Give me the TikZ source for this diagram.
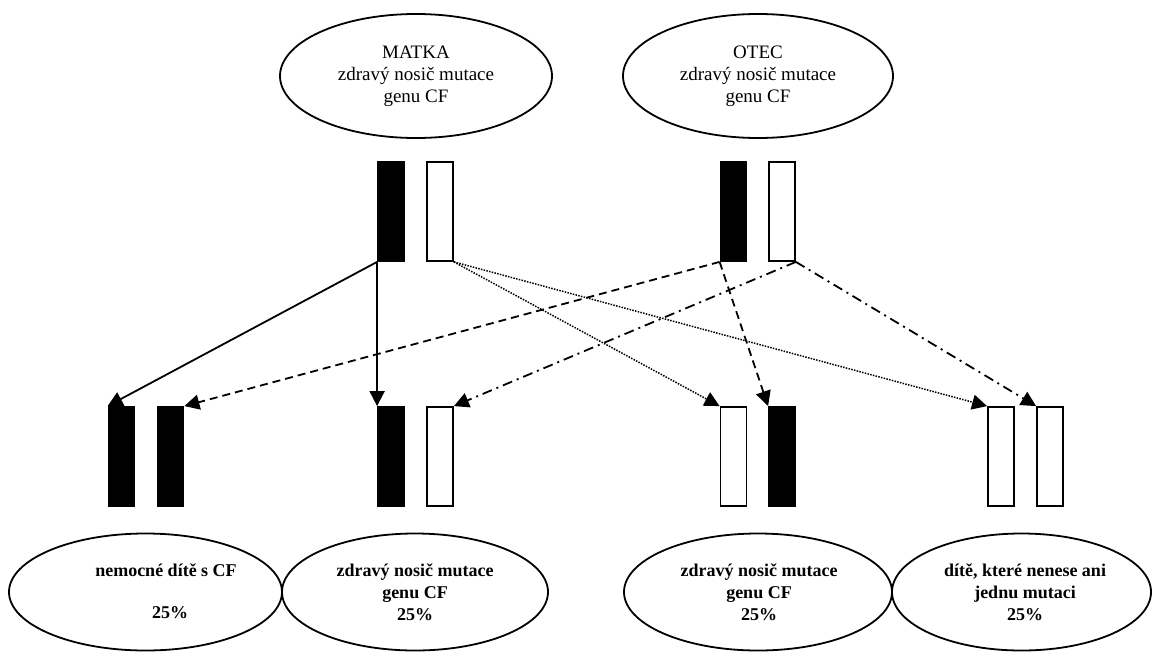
\documentclass[tikz,border=0pt]{standalone}
\usepackage{fontspec}
\setmainfont{Liberation Serif}
\usetikzlibrary{shapes.geometric,arrows.meta}
\begin{document}
\begin{tikzpicture}[x=1pt,y=-1pt,
  oval/.style={draw, line width=1.8pt, ellipse, inner sep=0pt, minimum width=#1, minimum height=124pt,
     align=center, font=\fontsize{19}{22}\selectfont},
  boval/.style={draw, line width=1.8pt, ellipse, inner sep=0pt, minimum width=#1, minimum height=117pt},
  btext/.style={align=center, inner sep=0pt, font=\bfseries\fontsize{18}{22}\selectfont},
  chrom/.style={draw, line width=1.8pt, rectangle, inner sep=0pt, minimum width=26pt, minimum height=99pt},
  blk/.style={chrom, fill=black},
  wht/.style={chrom, fill=white},
  conn/.style={line width=1.8pt, -{Triangle[length=15pt,width=15pt]}},
  solidc/.style={conn},
  dashc/.style={conn, dash pattern=on 8pt off 5pt},
  dotc/.style={conn, line width=1.5pt, dash pattern=on 1.5pt off 1.3pt},
  dashdotc/.style={conn, dash pattern=on 10pt off 5pt on 2pt off 5pt}
]
\useasboundingbox (0,0) rectangle (1153,651);
\fill[white] (0,0) rectangle (1153,651);

% parents
\node[oval=272pt] (matka) at (416,76) {MATKA\\zdravý nosič mutace\\genu CF};
\node[oval=270pt] (otec) at (758,76) {OTEC\\zdravý nosič mutace\\genu CF};

% parent chromosomes
\node[blk] (m1) at (391,211.5) {};
\node[wht] (m2) at (440,211.5) {};
\node[blk] (f1) at (733.5,211.5) {};
\node[wht] (f2) at (782,211.5) {};

% child chromosomes
\node[blk] (c1a) at (121.5,456.5) {};
\node[blk] (c1b) at (170.5,456.5) {};
\node[blk] (c2a) at (391,456.5) {};
\node[wht] (c2b) at (440,456.5) {};
\node[wht] (c3a) at (733.5,456.5) {};
\node[blk] (c3b) at (782,456.5) {};
\node[wht] (c4a) at (1001,456.5) {};
\node[wht] (c4b) at (1050,456.5) {};

% children
\node[boval=273pt] (k1) at (145.5,592) {};
\node[boval=266pt] (k2) at (415,592) {};
\node[boval=268pt] (k3) at (758,592) {};
\node[boval=259pt] (k4) at (1021.5,592) {};
\node[btext] (t1a) at (166,570) {nemocné dítě s CF};
\node[btext] (t1b) at (170,613) {25\%};
\node[btext] (t2) at (415,592) {zdravý nosič mutace\\genu CF\\25\%};
\node[btext] (t3) at (759,592) {zdravý nosič mutace\\genu CF\\25\%};
\node[btext] (t4) at (1025,592) {dítě, které nenese ani\\jednu mutaci\\25\%};

% connectors
\draw[solidc] (m1.south west) -- (c1a.north west);
\draw[solidc] (m1.south west) -- (c2a.north west);
\draw[dashc] (f1.south west) -- (c1b.north east);
\draw[dashc] (f1.south west) -- (c3b.north west);
\draw[dashdotc] (f2.south east) -- (c2b.north east);
\draw[dashdotc] (f2.south east) -- (c4b.north west);
\draw[dotc] (m2.south east) -- (c3a.north west);
\draw[dotc] (m2.south east) -- (c4a.north west);
\end{tikzpicture}
\end{document}
